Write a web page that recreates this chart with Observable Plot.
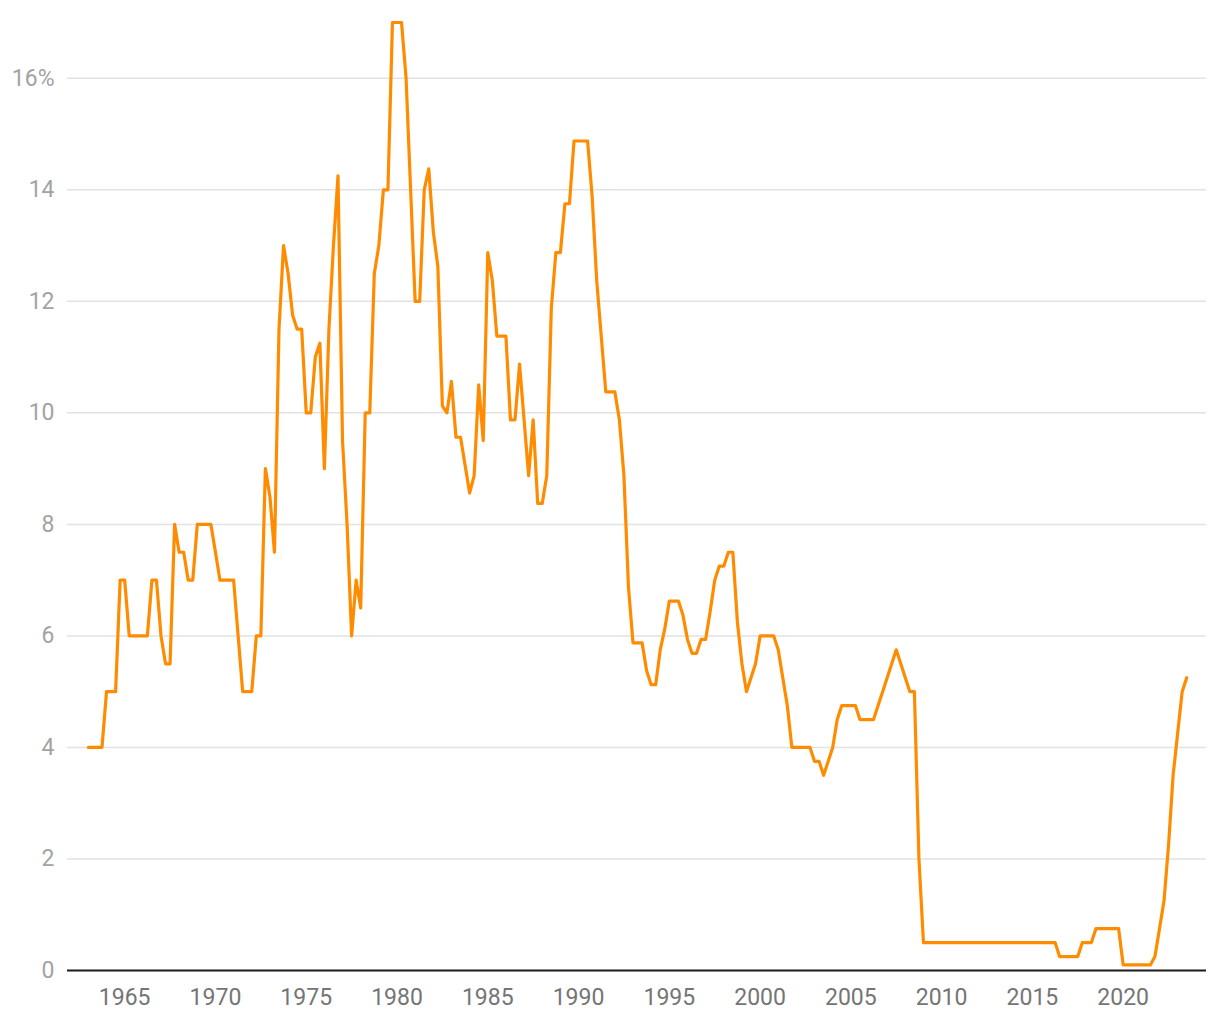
<!DOCTYPE html>
<html>
<head>
<meta charset="utf-8">
<script src="https://cdn.jsdelivr.net/npm/d3@7"></script>
<script src="https://cdn.jsdelivr.net/npm/@observablehq/plot@0.6"></script>
<style>
  html, body { margin: 0; padding: 0; background: #fff; }
  #chart svg { display: block; }
</style>
</head>
<body>
<div id="chart"></div>
<script>
// Quarterly (end-of-quarter) rate, starting 1963 Q1
const firstYear = 1963;
const rate = [
  4, 4, 4, 4,                 // 1963
  5, 5, 5, 7,                 // 1964
  7, 6, 6, 6,                 // 1965
  6, 6, 7, 7,                 // 1966
  6, 5.5, 5.5, 8,             // 1967
  7.5, 7.5, 7, 7,             // 1968
  8, 8, 8, 8,                 // 1969
  7.5, 7, 7, 7,               // 1970
  7, 6, 5, 5,                 // 1971
  5, 6, 6, 9,                 // 1972
  8.5, 7.5, 11.5, 13,         // 1973
  12.5, 11.75, 11.5, 11.5,    // 1974
  10, 10, 11, 11.25,          // 1975
  9, 11.5, 13, 14.25,         // 1976
  9.5, 8, 6, 7,               // 1977
  6.5, 10, 10, 12.5,          // 1978
  13, 14, 14, 17,             // 1979
  17, 17, 16, 14,             // 1980
  12, 12, 14, 14.375,         // 1981
  13.25, 12.625, 10.125, 10,  // 1982
  10.5625, 9.5625, 9.5625, 9.0625, // 1983
  8.5625, 8.875, 10.5, 9.5,   // 1984
  12.875, 12.375, 11.375, 11.375, // 1985
  11.375, 9.875, 9.875, 10.875,   // 1986
  9.875, 8.875, 9.875, 8.375,     // 1987
  8.375, 8.875, 11.875, 12.875,   // 1988
  12.875, 13.75, 13.75, 14.875,   // 1989
  14.875, 14.875, 14.875, 13.875, // 1990
  12.375, 11.375, 10.375, 10.375, // 1991
  10.375, 9.875, 8.875, 6.875,    // 1992
  5.875, 5.875, 5.875, 5.375,     // 1993
  5.125, 5.125, 5.75, 6.125,      // 1994
  6.625, 6.625, 6.625, 6.375,     // 1995
  5.9375, 5.6875, 5.6875, 5.9375, // 1996
  5.9375, 6.4375, 7, 7.25,        // 1997
  7.25, 7.5, 7.5, 6.25,           // 1998
  5.5, 5, 5.25, 5.5,              // 1999
  6, 6, 6, 6,                     // 2000
  5.75, 5.25, 4.75, 4,            // 2001
  4, 4, 4, 4,                     // 2002
  3.75, 3.75, 3.5, 3.75,          // 2003
  4, 4.5, 4.75, 4.75,             // 2004
  4.75, 4.75, 4.5, 4.5,           // 2005
  4.5, 4.5, 4.75, 5,              // 2006
  5.25, 5.5, 5.75, 5.5,           // 2007
  5.25, 5, 5, 2,                  // 2008
  0.5, 0.5, 0.5, 0.5,             // 2009
  0.5, 0.5, 0.5, 0.5,             // 2010
  0.5, 0.5, 0.5, 0.5,             // 2011
  0.5, 0.5, 0.5, 0.5,             // 2012
  0.5, 0.5, 0.5, 0.5,             // 2013
  0.5, 0.5, 0.5, 0.5,             // 2014
  0.5, 0.5, 0.5, 0.5,             // 2015
  0.5, 0.5, 0.25, 0.25,           // 2016
  0.25, 0.25, 0.25, 0.5,          // 2017
  0.5, 0.5, 0.75, 0.75,           // 2018
  0.75, 0.75, 0.75, 0.75,         // 2019
  0.1, 0.1, 0.1, 0.1,             // 2020
  0.1, 0.1, 0.1, 0.25,            // 2021
  0.75, 1.25, 2.25, 3.5,          // 2022
  4.25, 5, 5.25                   // 2023
];
const xTicks = [1965, 1970, 1975, 1980, 1985, 1990, 1995, 2000, 2005, 2010, 2015, 2020];
const yTicks = [0, 2, 4, 6, 8, 10, 12, 14, 16];

const data = rate.map((v, i) => ({ t: firstYear + i / 4, v }));

const chart = Plot.plot({
  width: 1220,
  height: 1020,
  marginTop: 22,
  marginBottom: 50,
  marginLeft: 67,
  marginRight: 14,
  style: { fontFamily: "Roboto, sans-serif", background: "#fff" },
  x: { domain: [1961.85, 2024.59] },
  y: { domain: [0, 17] },
  marks: [
    Plot.gridY(yTicks.filter(d => d > 0), { stroke: "#e2e2e2", strokeOpacity: 1, strokeWidth: 1.5 }),
    Plot.axisY(yTicks, {
      tickSize: 0, tickPadding: 13, fontSize: 23, fill: "#a3a3a3", label: null,
      tickFormat: d => d === 16 ? "16%" : String(d)
    }),
    Plot.axisX(xTicks, {
      tickSize: 0, tickPadding: 18, fontSize: 23, fill: "#757575", label: null,
      tickFormat: d => String(d)
    }),
    Plot.ruleY([0], { stroke: "#1a1a1a", strokeWidth: 2 }),
    Plot.line(data, { x: "t", y: "v", stroke: "#ff8c00", strokeWidth: 3.2, strokeLinejoin: "round", strokeLinecap: "round" })
  ]
});
document.getElementById("chart").appendChild(chart);
</script>
</body>
</html>
